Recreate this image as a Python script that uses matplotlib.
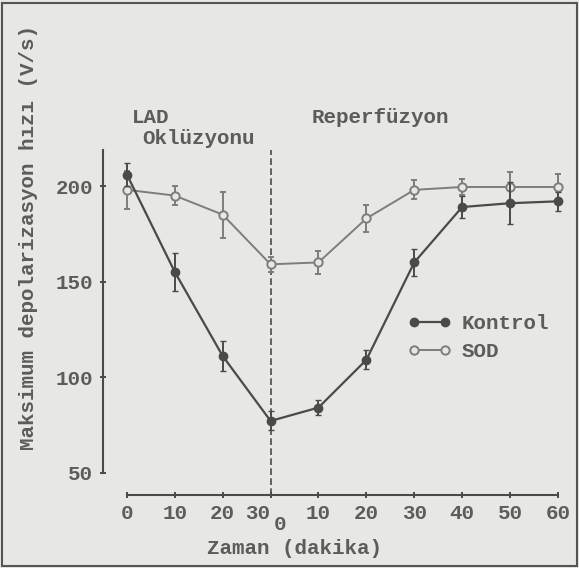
import matplotlib.pyplot as plt
import matplotlib.patches as mpatches
from matplotlib.lines import Line2D
import numpy as np

# zaman (dakika): oklüzyon 0-30, reperfüzyon 0-60
t_okl = [0, 10, 20, 30]
t_rep = [10, 20, 30, 40, 50, 60]

kontrol = [206, 155, 111, 77, 84, 109, 160, 189, 191, 192]
kontrol_err = [6, 10, 8, 5, 4, 5, 7, 6, 11, 5]
sod = [198, 195, 185, 159, 160, 183, 198, 199.5, 199.5, 199.5]
sod_err = [10, 5, 12, 4, 6, 7, 5, 4, 8, 7]

xtick_labels = ["0", "10", "20", "30", "10", "20", "30", "40", "50", "60"]

bg = "#e7e7e3"
koyu = "#4a4a4a"
acik = "#7d7d7d"
yazi = "#5c5c5c"
font = "Liberation Mono"
fs = 15

x = np.array(t_okl + [30 + t for t in t_rep])

fig = plt.figure(figsize=(5.79, 5.68), dpi=100, facecolor=bg)
ax = fig.add_axes([0, 0, 1, 1], facecolor=bg)
ax.set_xlim(-26.5, 94.4)
ax.set_ylim(0, 297.4)

ax.errorbar(x, sod, yerr=sod_err, color=acik, lw=1.4, marker="o", ms=6,
            mfc=bg, mec=acik, mew=1.4, capsize=2, elinewidth=1.4, zorder=3)
ax.errorbar(x, kontrol, yerr=kontrol_err, color=koyu, lw=1.6, marker="o", ms=6,
            mfc=koyu, mec=koyu, capsize=2, elinewidth=1.4, zorder=4)

ax.plot([30, 30], [38, 219], color=koyu, lw=1.2, ls=(0, (4, 2)), zorder=2)

for s in ["top", "right"]:
    ax.spines[s].set_visible(False)
ax.spines["left"].set_position(("data", -5))
ax.spines["left"].set_bounds(50, 219)
ax.spines["bottom"].set_position(("data", 38))
ax.spines["bottom"].set_bounds(0, 90)
for s in ["left", "bottom"]:
    ax.spines[s].set_color(koyu)
    ax.spines[s].set_linewidth(1.5)

ax.set_yticks([50, 100, 150, 200])
ax.set_xticks(x)
ax.set_xticklabels(xtick_labels)
ax.tick_params(direction="inout", length=4, width=1.4, color=koyu, labelcolor=yazi,
               labelsize=fs)
ax.tick_params(axis="y", pad=5)
ax.tick_params(axis="x", pad=4)
for lab in ax.get_xticklabels() + ax.get_yticklabels():
    lab.set_family(font)
    lab.set_fontweight("bold")
# "30" sola, reperfüzyonun "0"ı sağa kaydırılır
lab30 = ax.get_xticklabels()[3]
lab30.set_horizontalalignment("right")
lab30.set_x(30.4)
ax.text(30.6, 28, "0", family=font, fontweight="bold", fontsize=fs, color=yazi,
        ha="left", va="top")

ax.text(1, 236, "LAD", family=font, fontweight="bold", fontsize=fs, color=yazi, va="center")
ax.text(3.3, 225, "Oklüzyonu", family=font, fontweight="bold", fontsize=fs, color=yazi, va="center")
ax.text(38.5, 236, "Reperfüzyon", family=font, fontweight="bold", fontsize=fs, color=yazi, va="center")
ax.text(35, 10, "Zaman (dakika)", family=font, fontweight="bold", fontsize=fs, color=yazi,
        ha="center", va="center")
ax.text(-20.5, 173, "Maksimum depolarizasyon hızı (V/s)", family=font, fontweight="bold",
        fontsize=fs, color=yazi, rotation=90, ha="center", va="center")

handles = [Line2D([], [], color=koyu, lw=1.6, marker="o", ms=6, mfc=koyu, mec=koyu),
           Line2D([], [], color=acik, lw=1.4, marker="o", ms=6, mfc=bg, mec=acik, mew=1.4)]
leg = ax.legend(handles, ["Kontrol", "SOD"], loc="upper left", bbox_to_anchor=(0.672, 0.48),
                frameon=False, numpoints=2, handlelength=2.1, handletextpad=0.5,
                labelspacing=0.45, prop={"family": font, "weight": "bold", "size": fs})
for t in leg.get_texts():
    t.set_color(yazi)

fig.patches.append(mpatches.Rectangle((0.003, 0.003), 0.994, 0.992, transform=fig.transFigure,
                                      fill=False, ec="#555555", lw=1.5))

fig.savefig("out.png", dpi=100, facecolor=bg)
